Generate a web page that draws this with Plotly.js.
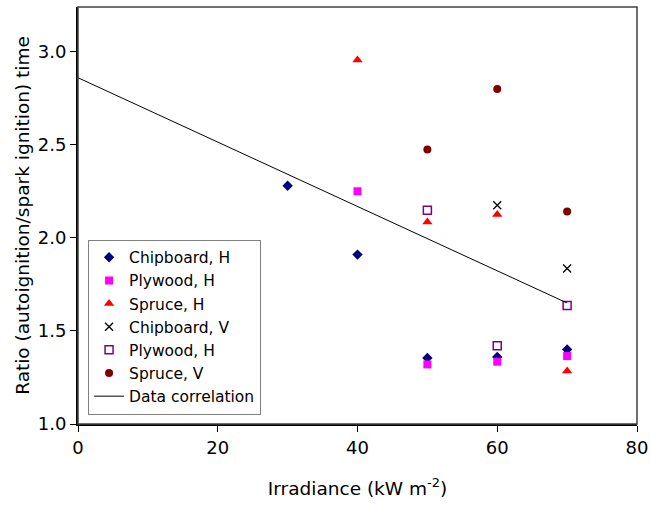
<!DOCTYPE html>
<html>
<head>
<meta charset="utf-8">
<script src="https://cdn.plot.ly/plotly-3.0.1.min.js"></script>
<style>html,body{margin:0;padding:0;background:#fff;}#chart{width:650px;height:506px;}</style>
</head>
<body>
<div id="chart"></div>
<script>
// Data
const chipboardH_x = [30, 40, 50, 60, 70];
const chipboardH_y = [2.28, 1.91, 1.355, 1.36, 1.40];
const plywoodH_x = [40, 50, 60, 70];
const plywoodH_y = [2.25, 1.32, 1.335, 1.365];
const spruceH_x = [40, 50, 60, 70];
const spruceH_y = [2.955, 2.085, 2.125, 1.285];
const chipboardV_x = [60, 70];
const chipboardV_y = [2.175, 1.835];
const plywoodH2_x = [50, 60, 70];
const plywoodH2_y = [2.148, 1.42, 1.637];
const spruceV_x = [50, 60, 70];
const spruceV_y = [2.475, 2.80, 2.142];
const corr_x = [0, 70];
const corr_y = [2.86, 1.65];
const xTicks = [0, 20, 40, 60, 80];
const yTicks = [1.0, 1.5, 2.0, 2.5, 3.0];

const FONT = "Verdana, DejaVu Sans, sans-serif";

const traces = [
  {x: chipboardH_x, y: chipboardH_y, name: "Chipboard, H", mode: "markers", type: "scatter",
   marker: {symbol: "diamond", color: "#000080", size: 8}},
  {x: plywoodH_x, y: plywoodH_y, name: "Plywood, H", mode: "markers", type: "scatter",
   marker: {symbol: "square", color: "#ff00ff", size: 8}},
  {x: spruceH_x, y: spruceH_y, name: "Spruce, H", mode: "markers", type: "scatter",
   marker: {symbol: "triangle-up", color: "#ff0000", size: 9}},
  {x: chipboardV_x, y: chipboardV_y, name: "Chipboard, V", mode: "markers", type: "scatter",
   marker: {symbol: "x-thin", color: "#000000", size: 8, line: {color: "#000000", width: 1.3}}},
  {x: plywoodH2_x, y: plywoodH2_y, name: "Plywood, H", mode: "markers", type: "scatter",
   marker: {symbol: "square-open", color: "#800080", size: 8, line: {width: 1.5}}},
  {x: spruceV_x, y: spruceV_y, name: "Spruce, V", mode: "markers", type: "scatter",
   marker: {symbol: "circle", color: "#800000", size: 8}},
  {x: corr_x, y: corr_y, name: "Data correlation", mode: "lines", type: "scatter",
   line: {color: "#000000", width: 1}}
];

const layout = {
  width: 650, height: 506,
  margin: {l: 78, r: 13, t: 7, b: 82},
  paper_bgcolor: "#ffffff", plot_bgcolor: "#ffffff",
  font: {family: FONT, size: 15.5, color: "#000"},
  showlegend: true,
  legend: {
    x: 0.018, y: 0.442, xanchor: "left", yanchor: "top",
    bgcolor: "#ffffff", bordercolor: "#808080", borderwidth: 1,
    font: {family: FONT, size: 15.5, color: "#000"},
    tracegroupgap: 0, itemwidth: 30
  },
  xaxis: {
    range: [0, 80], tickvals: xTicks, ticktext: xTicks.map(String),
    showgrid: false, zeroline: false,
    showline: true, linecolor: "#000", linewidth: 2,
    ticks: "outside", ticklen: 6, tickcolor: "#000", tickwidth: 1,
    tickfont: {family: FONT, size: 18},
    title: {text: "Irradiance (kW m<sup>-2</sup>)", font: {family: FONT, size: 18.5}, standoff: 25}
  },
  yaxis: {
    range: [1, 3.24], tickvals: yTicks, ticktext: yTicks.map(v => v.toFixed(1)),
    showgrid: false, zeroline: false,
    showline: true, linecolor: "#000", linewidth: 2,
    ticks: "outside", ticklen: 6, tickcolor: "#000", tickwidth: 1,
    tickfont: {family: FONT, size: 18},
    title: {text: "Ratio (autoignition/spark ignition) time", font: {family: FONT, size: 18.5}, standoff: 3}
  },
  shapes: [{type: "rect", xref: "paper", yref: "paper", x0: 0, x1: 1, y0: 0, y1: 1,
            line: {color: "#404040", width: 1.5}, layer: "above"}]
};

Plotly.newPlot("chart", traces, layout, {displayModeBar: false, staticPlot: true});
</script>
</body>
</html>
